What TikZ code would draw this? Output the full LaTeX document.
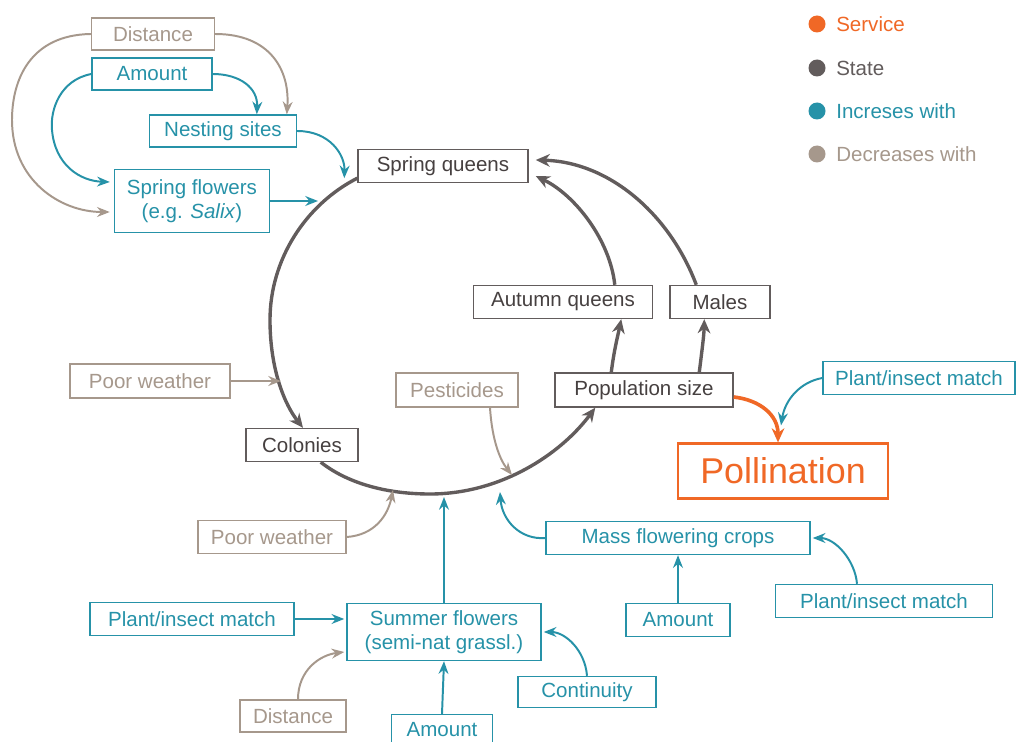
\documentclass[tikz,border=0pt]{standalone}
\usepackage{fontspec}
\setmainfont{Liberation Sans}
\usetikzlibrary{arrows.meta,calc}
\definecolor{teal}{RGB}{38,146,168}
\definecolor{taupe}{RGB}{166,152,140}
\definecolor{state}{RGB}{98,92,92}
\definecolor{statetext}{RGB}{70,64,64}
\definecolor{orng}{RGB}{240,104,38}
\tikzset{
  box/.style={draw, line width=1pt, inner sep=0pt, align=center, font=\fontsize{14.6}{17}\selectfont},
  inc/.style={box, draw=teal, text=teal},
  dec/.style={box, draw=taupe, text=taupe},
  st/.style={box, draw=state, text=statetext},
  srv/.style={box, draw=orng, text=orng, line width=1.6pt, font=\fontsize{25.5}{30}\selectfont},
  incarr/.style={draw=teal, line width=1.4pt, -{Stealth[length=9pt,width=7pt]}},
  decarr/.style={draw=taupe, line width=1.4pt, -{Stealth[length=9pt,width=7pt]}},
  starr/.style={draw=state, line width=2.4pt, -{Stealth[length=10pt,width=9pt]}},
  srvarr/.style={draw=orng, line width=2.6pt, -{Stealth[length=10pt,width=9pt]}},
  legtext/.style={anchor=west, inner sep=0pt, font=\fontsize{14.6}{17}\selectfont}
}
\begin{document}
\begin{tikzpicture}[x=0.025cm,y=-0.025cm]
\useasboundingbox (0,0) rectangle (1016,741);
\fill[white] (0,0) rectangle (1016,741);

% nodes
\node[dec, minimum width=3.075cm, minimum height=0.8cm] (dist1) at (153,34) {Distance};
\node[inc, minimum width=3.0cm, minimum height=0.8cm] (amt1) at (152,74) {Amount};
\node[inc, minimum width=3.675cm, minimum height=0.8cm] (nest) at (223,131) {Nesting sites};
\node[inc, minimum width=3.875cm, minimum height=1.575cm] (sflow) at (192,201) {Spring flowers\\(e.g. \textit{Salix})};
\node[st, minimum width=4.25cm, minimum height=0.825cm] (squeen) at (443,166) {Spring queens};
\node[st, minimum width=4.475cm, minimum height=0.825cm] (aqueen) at (563,302) {Autumn queens};
\node[st, minimum width=2.5cm, minimum height=0.825cm] (males) at (720,302) {Males};
\node[st, minimum width=4.45cm, minimum height=0.85cm] (pop) at (644,390) {Population size};
\node[inc, minimum width=4.8cm, minimum height=0.825cm] (pim1) at (919,378) {Plant/insect match};
\node[srv, minimum width=5.25cm, minimum height=1.375cm] (poll) at (783,471) {Pollination};
\node[dec, minimum width=4.0cm, minimum height=0.85cm] (pw1) at (150,381) {Poor weather};
\node[dec, minimum width=3.05cm, minimum height=0.85cm] (pest) at (457,390) {Pesticides};
\node[st, minimum width=2.8cm, minimum height=0.825cm] (col) at (302,445) {Colonies};
\node[dec, minimum width=3.7cm, minimum height=0.825cm] (pw2) at (272,537) {Poor weather};
\node[inc, minimum width=6.6cm, minimum height=0.825cm] (mass) at (678,538) {Mass flowering crops};
\node[inc, minimum width=2.6cm, minimum height=0.825cm] (amt2) at (678,620) {Amount};
\node[inc, minimum width=5.425cm, minimum height=0.825cm] (pim2) at (884,601) {Plant/insect match};
\node[inc, minimum width=5.1cm, minimum height=0.825cm] (pim3) at (192,619) {Plant/insect match};
\node[inc, minimum width=4.85cm, minimum height=1.425cm] (summer) at (444,632) {Summer flowers\\(semi-nat grassl.)};
\node[inc, minimum width=3.45cm, minimum height=0.775cm] (cont) at (587,692) {Continuity};
\node[dec, minimum width=2.65cm, minimum height=0.8cm] (dist2) at (293,716) {Distance};
\node[inc, minimum width=2.525cm, minimum height=0.775cm] (amt3) at (442,730) {Amount};

% legend
\fill[orng] (817,24) circle (8.5);
\node[legtext, text=orng] (lg1) at (836,24) {Service};
\fill[state] (817,68) circle (8.5);
\node[legtext, text=state] (lg2) at (836,68) {State};
\fill[teal] (817,111) circle (8.5);
\node[legtext, text=teal] (lg3) at (836,111) {Increses with};
\fill[taupe] (817,154) circle (8.5);
\node[legtext, text=taupe] (lg4) at (836,154) {Decreases with};

% cycle coordinates
\coordinate (cSF) at (318,201);
\coordinate (cPW1) at (281,381);
\coordinate (cPest) at (512,475);
\coordinate (cPW2) at (393,490);
\coordinate (cSum) at (444,497);
\coordinate (cMass) at (500,492);

% state cycle
\draw[starr] ($(squeen.south west)+(0,-5)$) .. controls (305,205) and (270,260) .. (270,320)
   .. controls (270,370) and (285,405) .. ($(col.north)+(1,0)$);
\draw[starr] ($(col.south east)+(-38,0)$) .. controls (350,485) and (390,494) .. (430,494)
   .. controls (500,494) and (560,455) .. ($(pop.south west)+(41,0)$);
\draw[starr] ($(pop.north west)+(57,0)$) .. controls (614,350) and (618,335) .. ($(aqueen.south east)+(-32,0)$);
\draw[starr] ($(pop.north west)+(145,0)$) .. controls (702,350) and (704,335) .. ($(males.south west)+(35,0)$);
\draw[starr] ($(aqueen.north west)+(142,0)$) .. controls (610,240) and (575,195) .. ($(squeen.east)+(7,10)$);
\draw[starr] ($(males.north west)+(27,0)$) .. controls (670,215) and (610,162) .. ($(squeen.east)+(7,-6)$);

% top-left inputs
\draw[incarr] (amt1.east) .. controls (240,74) and (258,88) .. ($(nest.north west)+(108,0)$);
\draw[decarr] (dist1.east) .. controls (270,34) and (290,70) .. ($(nest.north west)+(138,0)$);
\draw[decarr] (dist1.west) .. controls (30,35) and (12,80) .. (12,120)
   .. controls (12,180) and (60,212) .. ($(sflow.west)+(-4,11)$);
\draw[incarr] (amt1.west) .. controls (60,80) and (50,110) .. (52,130)
   .. controls (55,165) and (80,181) .. ($(sflow.west)+(-4,-19)$);
\draw[incarr] (nest.east) .. controls (330,131) and (345,155) .. ($(squeen.south west)+(-13,-5)$);
\draw[incarr] (sflow.east) -- (cSF);

% other inputs to the cycle
\draw[decarr] (pw1.east) -- (cPW1);
\draw[decarr] ($(pest.south)+(33,0)$) .. controls (492,440) and (500,460) .. (cPest);
\draw[decarr] (pw2.east) .. controls (375,535) and (388,515) .. (cPW2);
\draw[incarr] (summer.north) -- (cSum);
\draw[incarr] (mass.west) .. controls (520,540) and (502,520) .. (cMass);

% pollination
\draw[srvarr] ($(pop.east)+(0,7)$) .. controls (760,400) and (778,415) .. ($(poll.north)+(-5,0)$);
\draw[incarr] (pim1.west) .. controls (800,382) and (785,400) .. ($(poll.north)+(-2,-17)$);

% mass flowering crops inputs
\draw[incarr] (amt2.north) -- (mass.south);
\draw[incarr] ($(pim2.north)+(-27,0)$) .. controls (855,560) and (835,538) .. ($(mass.east)+(2,0)$);

% summer flowers inputs
\draw[incarr] (cont.north) .. controls (585,650) and (565,632) .. ($(summer.east)+(2,0)$);
\draw[incarr] (pim3.east) -- ($(summer.west)+(-2,-13)$);
\draw[decarr] ($(dist2.north)+(5,0)$) .. controls (298,670) and (320,655) .. ($(summer.west)+(-2,20)$);
\draw[incarr] (amt3.north) -- (summer.south);
\end{tikzpicture}
\end{document}
